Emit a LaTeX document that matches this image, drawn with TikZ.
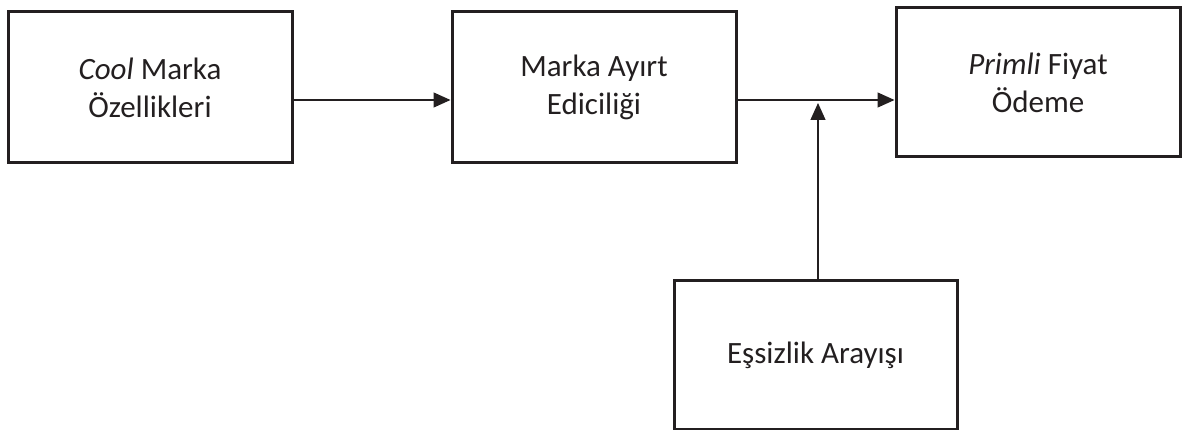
\documentclass[tikz,border=0pt]{standalone}
\usepackage{fontspec}
\setmainfont{Carlito}
\usetikzlibrary{arrows.meta}
\definecolor{ink}{HTML}{231F20}
\begin{document}
\begin{tikzpicture}[x=1pt,y=-1pt,
  box/.style={draw=ink,line width=3pt,text=ink,align=center,inner sep=0pt,
    font=\fontsize{31}{38}\selectfont,minimum width=284pt,minimum height=151pt},
  arr/.style={draw=ink,line width=1.3pt,-{Triangle[length=17pt,width=15pt]}}]
\useasboundingbox (0,0) rectangle (1182,430);
\node[box] (b1) at (150,87.5) {\textit{Cool} Marka\\Özellikleri};
\node[box] (b2) at (594,87.5) {Marka Ayırt\\Ediciliği};
\node[box,minimum height=149pt] (b3) at (1038,82.5) {\textit{Primli} Fiyat\\Ödeme};
\node[box,minimum width=283pt,minimum height=149pt] (b4) at (815.5,355) {Eşsizlik Arayışı};
\coordinate (j) at (818,103);
\draw[arr] (b1.east |- 0,100) -- (b2.west |- 0,100);
\draw[arr] (b2.east |- 0,100) -- (b3.west |- 0,100);
\draw[arr] (b4.north -| j) -- (j);
\end{tikzpicture}
\end{document}
